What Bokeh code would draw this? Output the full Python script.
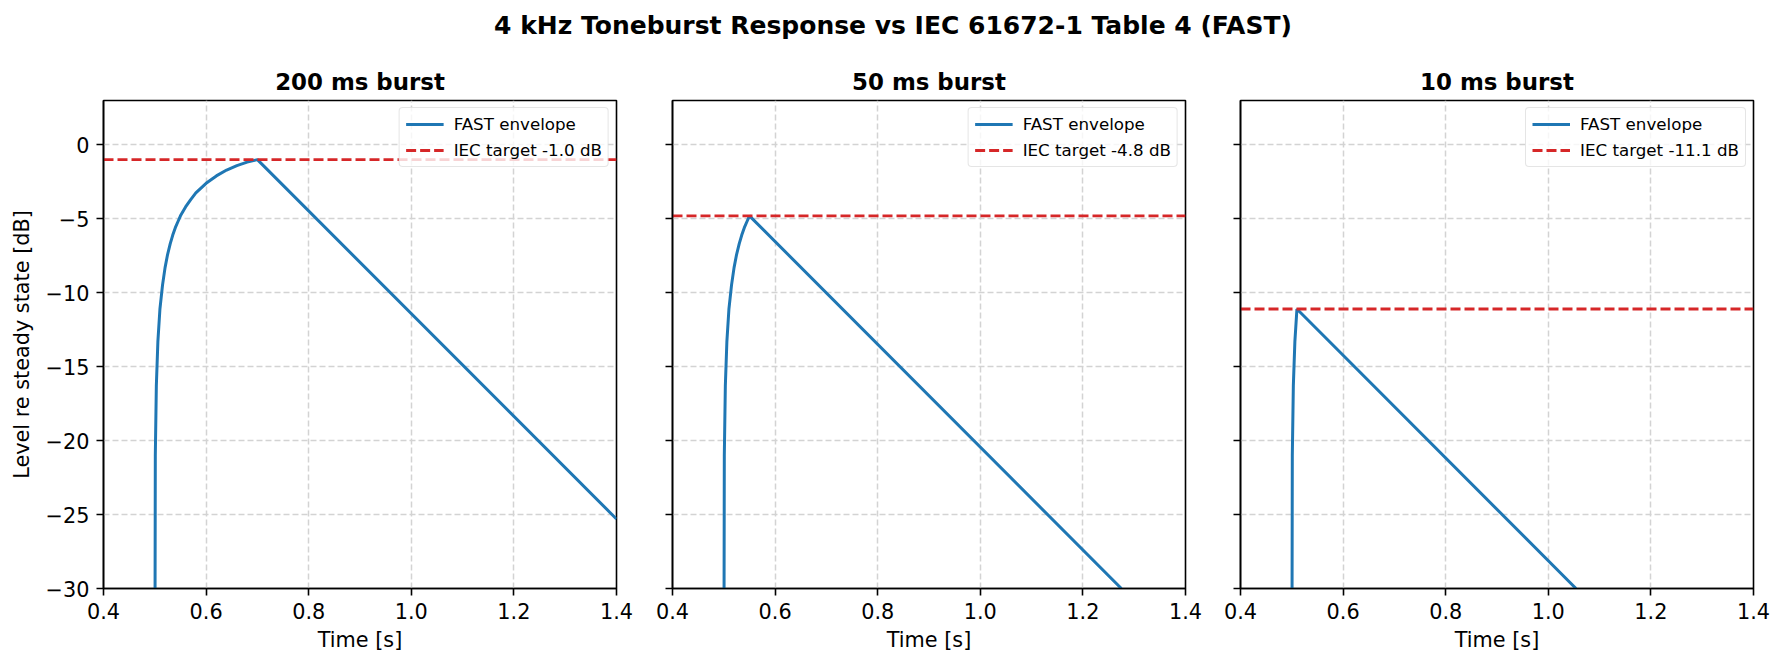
from bokeh.plotting import figure
from bokeh.layouts import column, row
from bokeh.models import FixedTicker, Range1d
from bokeh.core.properties import value
from bokeh.embed import file_html
from bokeh.resources import INLINE

# ---- chart data ---------------------------------------------------------
SUPTITLE = "4 kHz Toneburst Response vs IEC 61672-1 Table 4 (FAST)"
BURST_TITLES = ["200 ms burst", "50 ms burst", "10 ms burst"]

# FAST-weighted envelope of each burst (time in s, level in dB re steady state)
TIME_200MS = [0.500, 0.501, 0.503, 0.506, 0.510, 0.515, 0.520, 0.525, 0.530,
              0.535, 0.540, 0.545, 0.550, 0.560, 0.570, 0.580, 0.600, 0.620,
              0.640, 0.660, 0.680, 0.700, 1.400]
LEVEL_200MS = [-40.0, -21.0, -16.3, -13.3, -11.1, -9.5, -8.3, -7.4, -6.7,
               -6.1, -5.6, -5.2, -4.8, -4.2, -3.7, -3.25, -2.6, -2.1,
               -1.7, -1.4, -1.17, -1.0, -25.3]

TIME_50MS = [0.500, 0.501, 0.503, 0.506, 0.510, 0.515, 0.520, 0.525, 0.530,
             0.535, 0.540, 0.545, 0.550, 1.275]
LEVEL_50MS = [-40.0, -21.0, -16.3, -13.3, -11.1, -9.5, -8.3, -7.4, -6.7,
              -6.1, -5.6, -5.2, -4.8, -30.0]

TIME_10MS = [0.500, 0.501, 0.503, 0.506, 0.510, 1.054]
LEVEL_10MS = [-40.0, -21.0, -16.3, -13.3, -11.1, -30.0]

IEC_TARGETS = [-1.0, -4.8, -11.1]

X_LIMITS = [0.4, 1.4]
Y_LIMITS = [-30.0, 3.0]
X_TICKS = [0.4, 0.6, 0.8, 1.0, 1.2, 1.4]
X_TICK_LABELS = ["0.4", "0.6", "0.8", "1.0", "1.2", "1.4"]
Y_TICKS = [-30, -25, -20, -15, -10, -5, 0]
Y_TICK_LABELS = ["\u221230", "\u221225", "\u221220", "\u221215", "\u221210", "\u22125", "0"]

# ---- styling --------------------------------------------------------------
FONT = "DejaVu Sans"
BLUE = "#1f77b4"
RED = "#d62728"
GRID = "#d3d3d3"

PANEL_HEIGHT = 619
TOP_BORDER = 50
BOTTOM_BORDER = 81


def make_panel(title, times, levels, target, width, left, right, show_ylabels):
    p = figure(width=width, height=PANEL_HEIGHT,
               x_range=Range1d(*X_LIMITS), y_range=Range1d(*Y_LIMITS),
               min_border_left=left, min_border_right=right,
               min_border_top=TOP_BORDER, min_border_bottom=BOTTOM_BORDER,
               toolbar_location=None, output_backend="svg", title=title)
    p.background_fill_color = "white"
    p.border_fill_color = "white"
    p.outline_line_color = "black"
    p.outline_line_width = 1.6

    # title
    p.title.align = "center"
    p.title.text_font = FONT
    p.title.text_font_size = "22.9px"
    p.title.text_font_style = "bold"
    p.title.text_color = "black"
    if "standoff" in p.title.properties():
        p.title.standoff = 12

    # axes
    p.xaxis.ticker = FixedTicker(ticks=X_TICKS)
    p.yaxis.ticker = FixedTicker(ticks=Y_TICKS)
    p.xaxis.major_label_overrides = dict(zip(X_TICKS, X_TICK_LABELS))
    if show_ylabels:
        p.yaxis.major_label_overrides = dict(zip(Y_TICKS, Y_TICK_LABELS))
        p.yaxis.axis_label = "Level re steady state [dB]"
    else:
        p.yaxis.major_label_overrides = {t: "" for t in Y_TICKS}
    p.xaxis.axis_label = "Time [s]"
    for ax in p.axis:
        ax.axis_line_color = "black"
        ax.axis_line_width = 1.6
        ax.major_tick_line_color = "black"
        ax.major_tick_line_width = 1.6
        ax.major_tick_out = 7
        ax.major_tick_in = 0
        ax.minor_tick_line_color = None
        ax.major_label_text_font = FONT
        ax.major_label_text_font_size = "20.8px"
        ax.major_label_text_color = "black"
        ax.major_label_standoff = 7
        ax.axis_label_text_font = FONT
        ax.axis_label_text_font_size = "20.8px"
        ax.axis_label_text_font_style = "normal"
        ax.axis_label_text_color = "black"
    p.xaxis.axis_label_standoff = 6
    p.yaxis.axis_label_standoff = 9

    # grid
    p.grid.grid_line_color = GRID
    p.grid.grid_line_dash = "6 3"
    p.grid.grid_line_width = 1.5

    # envelope and target
    p.line(times, levels, color=BLUE, line_width=3, legend_label="FAST envelope")
    p.line(X_LIMITS, [target, target], color=RED, line_width=2.8,
           line_dash="10 4", legend_label=f"IEC target {target:.1f} dB")

    lg = p.legend[0]
    lg.location = "top_right"
    lg.margin = 7
    lg.padding = 6
    lg.spacing = 6
    lg.glyph_width = 38
    lg.glyph_height = 18
    lg.label_height = 18
    lg.label_standoff = 10
    lg.label_text_font = FONT
    lg.label_text_font_size = "16.7px"
    lg.label_text_color = "black"
    lg.border_line_color = "#cccccc"
    lg.border_line_width = 1.5
    lg.background_fill_color = "white"
    lg.background_fill_alpha = 0.8
    if "border_radius" in lg.properties():
        lg.border_radius = 4
    return p


p1 = make_panel(BURST_TITLES[0], TIME_200MS, LEVEL_200MS, IEC_TARGETS[0],
                width=644, left=103, right=28, show_ylabels=True)
p2 = make_panel(BURST_TITLES[1], TIME_50MS, LEVEL_50MS, IEC_TARGETS[1],
                width=568, left=28, right=27, show_ylabels=False)
p3 = make_panel(BURST_TITLES[2], TIME_10MS, LEVEL_10MS, IEC_TARGETS[2],
                width=573, left=28, right=32, show_ylabels=False)

# overall heading across the three panels
head = figure(width=1785, height=TOP_BORDER, x_range=Range1d(0, 1), y_range=Range1d(0, 1),
              x_axis_location=None, y_axis_location=None, min_border=0,
              toolbar_location=None, output_backend="svg")
head.grid.visible = False
head.outline_line_color = None
head.background_fill_color = "white"
head.border_fill_color = "white"
head.text(x=[0.5], y=[0.5], text=[SUPTITLE], text_align="center", text_baseline="middle",
          text_font=value(FONT), text_font_size="25px", text_font_style="bold",
          text_color="black")

layout = column(head, row(p1, p2, p3, spacing=0), spacing=0)

with open("out.html", "w") as f:
    f.write(file_html(layout, INLINE))
